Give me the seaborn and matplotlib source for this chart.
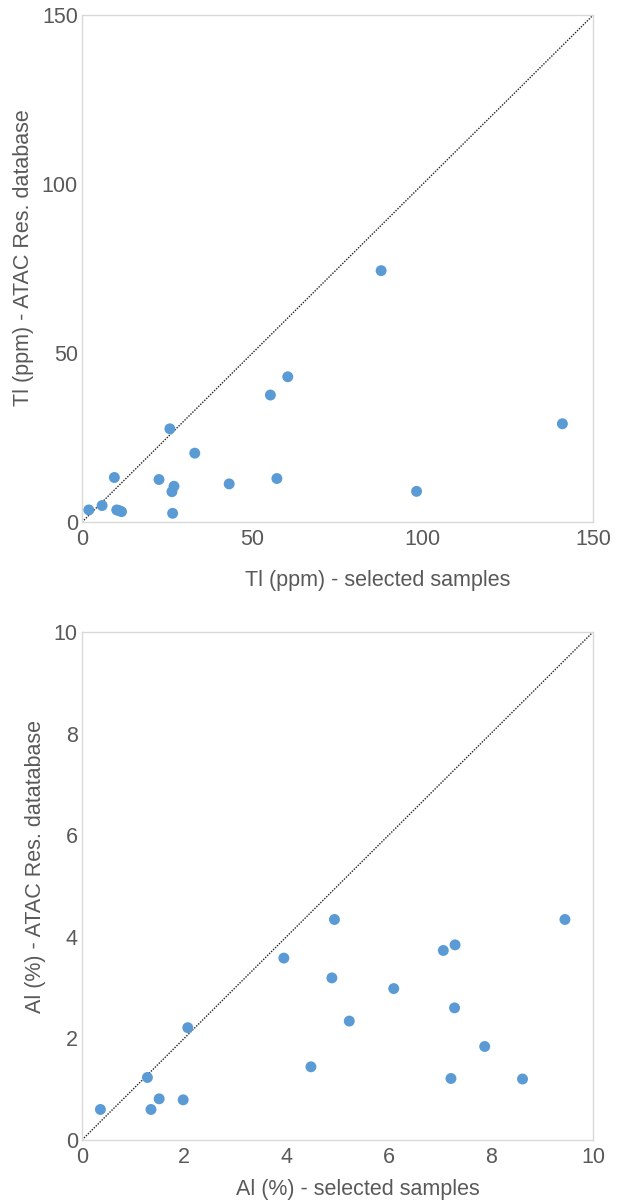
import matplotlib
matplotlib.use("Agg")
import matplotlib.pyplot as plt
import seaborn as sns
import pandas as pd

# Top chart: Tl (ppm)
tl_selected = [2.0, 5.9, 9.5, 10.2, 10.9, 11.6, 22.6, 25.8, 26.6, 26.4, 27.0, 33.1,
               43.2, 55.3, 57.2, 60.4, 87.8, 98.2, 141.0]
tl_atac = [3.6, 4.9, 13.2, 3.6, 3.4, 3.1, 12.6, 27.6, 2.6, 9.0, 10.6, 20.4,
           11.3, 37.6, 12.9, 43.0, 74.4, 9.1, 29.1]
tl_ticks = [0, 50, 100, 150]

# Bottom chart: Al (%)
al_selected = [0.36, 1.28, 1.35, 1.51, 1.98, 2.07, 3.95, 4.48, 4.89, 4.94, 5.23,
               6.10, 7.07, 7.30, 7.22, 7.29, 7.88, 8.62, 9.45]
al_atac = [0.60, 1.23, 0.60, 0.81, 0.79, 2.21, 3.58, 1.44, 3.19, 4.34, 2.34,
           2.98, 3.73, 3.84, 1.21, 2.60, 1.84, 1.20, 4.34]
al_ticks = [0, 2, 4, 6, 8, 10]

sns.set_style("white")
plt.rcParams['font.family'] = ['Liberation Sans', 'DejaVu Sans']

fig = plt.figure(figsize=(6.24, 12.03), dpi=100)
ax1 = fig.add_axes([0.1314, 0.566, 0.819, 0.4214])
ax2 = fig.add_axes([0.1314, 0.0524, 0.819, 0.4223])

blue = "#5B9BD5"
grey_text = "#595959"

def style(ax, ticks, xlabel, ylabel, xlab_pos, ylab_pos):
    lo, hi = ticks[0], ticks[-1]
    ax.plot([lo, hi], [lo, hi], linestyle=(0, (1, 1)), color="#222222", lw=1.0, zorder=1)
    ax.set_xlim(lo, hi)
    ax.set_ylim(lo, hi)
    ax.set_xticks(ticks)
    ax.set_yticks(ticks)
    ax.tick_params(axis="both", length=0, labelsize=15.5, colors=grey_text)
    ax.tick_params(axis="x", pad=5)
    ax.tick_params(axis="y", pad=3)
    for sp in ax.spines.values():
        sp.set_color("#d9d9d9")
        sp.set_linewidth(1.0)
    ax.set_xlabel(xlabel, fontsize=15.5, color=grey_text)
    ax.set_ylabel(ylabel, fontsize=15.5, color=grey_text)
    ax.xaxis.set_label_coords(*xlab_pos)
    ax.yaxis.set_label_coords(*ylab_pos)

df1 = pd.DataFrame({"x": tl_selected, "y": tl_atac})
sns.scatterplot(data=df1, x="x", y="y", ax=ax1, color=blue, s=62, edgecolor="none", zorder=3)
style(ax1, tl_ticks, "Tl (ppm) - selected samples", "Tl (ppm) - ATAC Res. database",
      (0.579, -0.0947), (-0.093, 0.521))

df2 = pd.DataFrame({"x": al_selected, "y": al_atac})
sns.scatterplot(data=df2, x="x", y="y", ax=ax2, color=blue, s=62, edgecolor="none", zorder=3)
style(ax2, al_ticks, "Al (%) - selected samples", "Al (%) - ATAC Res. datatabase",
      (0.540, -0.077), (-0.070, 0.539))

fig.savefig("out.png", dpi=100)
